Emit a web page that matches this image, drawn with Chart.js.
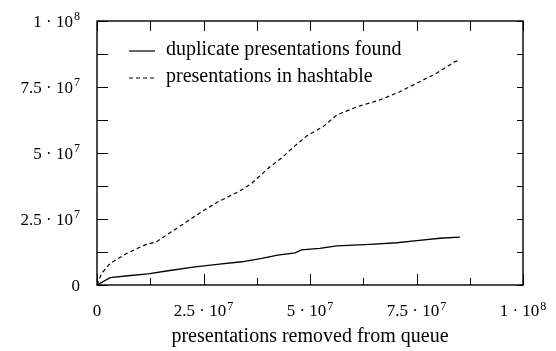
<!DOCTYPE html>
<html>
<head>
<meta charset="utf-8">
<script src="https://cdn.jsdelivr.net/npm/chart.js@4"></script>
<style>
  body { margin: 0; background: #fff; }
  canvas { display: block; }
</style>
</head>
<body>
<canvas id="myChart" width="556" height="351"></canvas>
<script>
// Values (both axes in presentations)
const dupX = [0, 3.1e6, 7.3e6, 12e6, 16.7e6, 23e6, 29.3e6, 34e6, 38.7e6, 42.4e6, 46.5e6, 48e6, 52.3e6, 56.3e6, 64.1e6, 70.4e6, 75.1e6, 80.5e6, 85.2e6];
const dupY = [0, 2.8e6, 3.5e6, 4.2e6, 5.4e6, 6.9e6, 8.0e6, 8.8e6, 10.1e6, 11.3e6, 12.2e6, 13.3e6, 13.9e6, 14.8e6, 15.4e6, 16.0e6, 16.8e6, 17.7e6, 18.1e6];
const hashX = [0, 1.1e6, 3.1e6, 7e6, 11.3e6, 14e6, 16e6, 19.9e6, 24.6e6, 28.5e6, 33.2e6, 36.3e6, 40.4e6, 43.7e6, 45.3e6, 49.2e6, 53.1e6, 56.3e6, 61e6, 66.4e6, 71.1e6, 75e6, 79.7e6, 84e6, 85.2e6];
const hashY = [0, 4.4e6, 8.2e6, 12e6, 15.2e6, 16.4e6, 18.6e6, 22.7e6, 27.8e6, 31.6e6, 35.3e6, 38.5e6, 44.5e6, 48.6e6, 51.1e6, 56.4e6, 60e6, 64.4e6, 67.5e6, 70.1e6, 73.2e6, 76.4e6, 80.2e6, 84.6e6, 85.2e6];
const seriesLabels = ['duplicate presentations found', 'presentations in hashtable'];
const xTickLabels = ['0', '2.5 · 10^7', '5 · 10^7', '7.5 · 10^7', '1 · 10^8'];
const yTickLabels = ['0', '2.5 · 10^7', '5 · 10^7', '7.5 · 10^7', '1 · 10^8'];
const xTitle = 'presentations removed from queue';

const FONT = "'Liberation Serif', serif";

function toPoints(xs, ys) {
    return xs.map((x, i) => ({x, y: ys[i]}));
}

// draws "a · 10^n" with a raised exponent; align: 'right' or 'center'
function drawPowerLabel(ctx, label, x, baseline, align) {
    const [base, exp] = label.split('^');
    ctx.font = '17px ' + FONT;
    const wBase = ctx.measureText(base).width;
    let wExp = 0;
    if (exp) {
        ctx.font = '12px ' + FONT;
        wExp = ctx.measureText(exp).width + 1;
    }
    const total = wBase + wExp;
    const left = align === 'right' ? x - total : x - total / 2;
    ctx.textAlign = 'left';
    ctx.textBaseline = 'alphabetic';
    ctx.font = '17px ' + FONT;
    ctx.fillText(base, left, baseline);
    if (exp) {
        ctx.font = '12px ' + FONT;
        ctx.fillText(exp, left + wBase + 1, baseline - 6.5);
    }
}

// frame, inward ticks, tick labels and legend
const framePlugin = {
    id: 'frame',
    afterDraw(chart) {
        const ctx = chart.ctx;
        const a = chart.chartArea;
        const xs = chart.scales.x;
        const ys = chart.scales.y;
        ctx.save();
        ctx.strokeStyle = '#000';
        ctx.fillStyle = '#000';
        ctx.lineWidth = 1.4;
        ctx.strokeRect(a.left, a.top, a.right - a.left, a.bottom - a.top);
        ctx.lineWidth = 1;
        ctx.beginPath();
        for (let v = 0; v <= 1e8; v += 1.25e7) {
            const major = v % 2.5e7 === 0;
            const px = Math.round(xs.getPixelForValue(v)) + 0.5;
            ctx.moveTo(px, a.bottom);
            ctx.lineTo(px, a.bottom - (major ? 11 : 7));
            ctx.moveTo(px, a.top);
            ctx.lineTo(px, a.top + 10);
            const py = Math.round(ys.getPixelForValue(v)) + 0.5;
            ctx.moveTo(a.left, py);
            ctx.lineTo(a.left + 11, py);
            ctx.moveTo(a.right, py);
            ctx.lineTo(a.right - 6, py);
        }
        ctx.stroke();

        // tick labels
        xs.ticks.forEach((t, i) => {
            drawPowerLabel(ctx, xTickLabels[i], xs.getPixelForValue(t.value), a.bottom + 31, 'center');
        });
        ys.ticks.forEach((t, i) => {
            drawPowerLabel(ctx, yTickLabels[i], a.left - 17, ys.getPixelForValue(t.value) + 5.5, 'right');
        });

        // legend
        ctx.font = '20px ' + FONT;
        ctx.textAlign = 'left';
        ctx.textBaseline = 'middle';
        chart.data.datasets.forEach((ds, i) => {
            const y = a.top + 28.5 + i * 27;
            ctx.setLineDash(ds.borderDash || []);
            ctx.lineWidth = 1.2;
            ctx.beginPath();
            ctx.moveTo(a.left + 32, y + 1.5);
            ctx.lineTo(a.left + 58, y + 1.5);
            ctx.stroke();
            ctx.setLineDash([]);
            ctx.fillText(ds.label, a.left + 69, y);
        });
        ctx.restore();
    }
};

const config = {
    type: 'line',
    data: {
        datasets: [{
            label: seriesLabels[0],
            data: toPoints(dupX, dupY),
            borderColor: '#000',
            borderWidth: 1.3,
            pointRadius: 0,
            tension: 0
        }, {
            label: seriesLabels[1],
            data: toPoints(hashX, hashY),
            borderColor: '#000',
            borderWidth: 1.2,
            borderDash: [4, 3],
            pointRadius: 0,
            tension: 0
        }]
    },
    options: {
        responsive: false,
        animation: false,
        layout: {
            padding: {left: 0, top: 21, right: 33, bottom: 0}
        },
        scales: {
            x: {
                type: 'linear',
                min: 0,
                max: 1e8,
                afterFit: scale => { scale.height = 66; },
                grid: {display: false, drawTicks: false},
                border: {display: false},
                ticks: {
                    stepSize: 2.5e7,
                    autoSkip: false,
                    maxRotation: 0,
                    font: {size: 1},
                    callback: () => ''
                },
                title: {
                    display: true,
                    text: xTitle,
                    color: '#000',
                    font: {family: FONT, size: 20},
                    padding: {top: 0, bottom: 2}
                }
            },
            y: {
                type: 'linear',
                min: 0,
                max: 1e8,
                afterFit: scale => { scale.width = 97; },
                grid: {display: false, drawTicks: false},
                border: {display: false},
                ticks: {
                    stepSize: 2.5e7,
                    autoSkip: false,
                    font: {size: 1},
                    callback: () => ''
                }
            }
        },
        plugins: {
            legend: {display: false},
            tooltip: {enabled: false}
        }
    },
    plugins: [framePlugin]
};

new Chart(document.getElementById('myChart'), config);
</script>
</body>
</html>
